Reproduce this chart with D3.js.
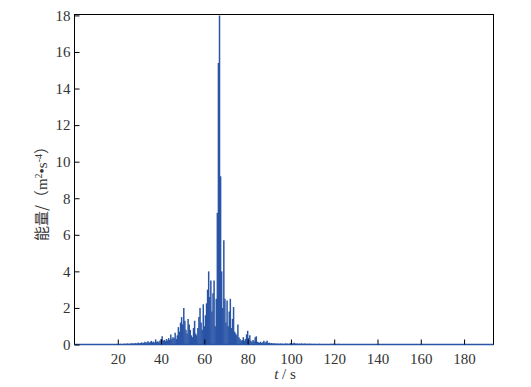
<!DOCTYPE html>
<html><head><meta charset="utf-8">
<script src="https://cdn.jsdelivr.net/npm/d3@7"></script>
<style>body{margin:0;background:#fff}</style>
</head><body>
<script>
// sampled energy series: first sample at t0 seconds, spacing dt seconds
const t0 = 20, dt = 0.5;
const energy = [
 0.02,0.03,0.02,0.04,0.03,0.02,0.05,0.03,0.04,0.06, // 20-24.5
 0.03,0.05,0.04,0.07,0.05,0.04,0.08,0.05,0.06,0.10, // 25-29.5
 0.06,0.08,0.12,0.07,0.10,0.15,0.09,0.12,0.18,0.10, // 30-34.5
 0.14,0.20,0.12,0.16,0.10,0.28,0.14,0.18,0.12,0.22, // 35-39.5
 0.30,0.45,0.20,0.25,0.18,0.30,0.22,0.35,0.25,0.55, // 40-44.5
 0.30,0.40,0.35,0.64,0.30,0.50,0.95,0.70,1.20,1.50, // 45-49.5
 1.10,2.00,1.30,0.80,0.60,1.40,1.10,0.80,0.50,0.40, // 50-54.5
 0.90,1.30,0.60,0.50,0.90,1.50,2.00,1.20,0.80,2.20, // 55-59.5
 1.00,1.60,2.25,3.00,4.00,2.60,3.50,1.80,2.80,3.50, // 60-64.5
 1.00,2.50,7.20,15.4,18.0,9.20,4.00,2.00,5.70,2.50, // 65-69.5
 1.20,2.40,1.00,1.80,2.50,0.90,1.40,2.05,0.70,0.60, // 70-74.5
 0.50,1.10,0.40,0.30,0.20,0.25,0.40,0.20,0.30,0.55, // 75-79.5
 0.75,0.35,0.50,0.20,0.15,0.25,0.18,0.40,0.45,0.15, // 80-84.5
 0.12,0.10,0.15,0.08,0.12,0.20,0.10,0.15,0.20,0.08, // 85-89.5
 0.10,0.06,0.08,0.05,0.07,0.05,0.06,0.04,0.05,0.03, // 90-94.5
 0.06,0.04,0.05,0.03,0.04,0.06,0.04,0.05,0.03,0.05, // 95-99.5
 0.08,0.04,0.06,0.10,0.05,0.04,0.06,0.03,0.05,0.04, // 100-104.5
 0.06,0.03,0.04,0.05,0.03,0.04,0.03,0.05,0.03,0.04, // 105-109.5
 0.03,0.02,0.04,0.02,0.03,0.02,0.04,0.02,0.03,0.02, // 110-114.5
 0.03,0.02,0.03,0.02,0.02,0.03,0.02,0.04,0.02,0.02, // 115-119.5
 0.05,0.02,0.03,0.02,0.04,0.02,0.02,0.03,0.02,0.02, // 120-124.5
 0.03,0.02,0.02,0.01,0.02,0.01,0.02,0.01,0.01,0.01  // 125-129.5
];
const xTicks = [20,40,60,80,100,120,140,160,180];
const yTicks = [0,2,4,6,8,10,12,14,16,18];
const xMax = 193.6, yMax = 18.05;

const W = 531, H = 387;
const L = 74.5, R = 493.5, T = 14.5, B = 344.5;
const blue = "#2a55a6";

const svg = d3.select("body").append("svg").attr("width", W).attr("height", H);
const x = d3.scaleLinear().domain([0, xMax]).range([L, R]);
const y = d3.scaleLinear().domain([0, yMax]).range([B, T]);

const data = energy.map((v, i) => ({t: t0 + i * dt, v}));

// series as dense stems
svg.append("g").selectAll("line").data(data).join("line")
  .attr("x1", d => x(d.t)).attr("x2", d => x(d.t))
  .attr("y1", y(0)).attr("y2", d => y(d.v))
  .attr("stroke", blue).attr("stroke-width", 1.5);

// frame
svg.append("rect").attr("x", L).attr("y", T).attr("width", R - L).attr("height", B - T)
  .attr("fill", "none").attr("stroke", "#000").attr("stroke-width", 1);

// baseline of the signal
svg.append("line").attr("x1", x(0)).attr("x2", x(xMax)).attr("y1", y(0)).attr("y2", y(0))
  .attr("stroke", blue).attr("stroke-width", 1.6);

// axes with inward ticks
const xAxis = d3.axisBottom(x).tickValues(xTicks).tickSizeInner(-5).tickSizeOuter(0).tickPadding(9);
const yAxis = d3.axisLeft(y).tickValues(yTicks).tickSizeInner(-5).tickSizeOuter(0).tickPadding(9);
const gx = svg.append("g").attr("transform", `translate(0,${B})`).call(xAxis);
const gy = svg.append("g").attr("transform", `translate(${L},0)`).call(yAxis);
[gx, gy].forEach(g => {
  g.select(".domain").remove();
  g.selectAll(".tick line").attr("stroke", "#000");
  g.selectAll("text").attr("fill", "#333")
    .style("font-family", "'Liberation Serif', serif").style("font-size", "15px");
});
gy.selectAll("text").attr("x", -4);
gx.selectAll("text").attr("dy", "0.71em");

// x label
const xl = svg.append("text").attr("x", 285).attr("y", 379).attr("text-anchor", "middle")
  .attr("fill", "#333").style("font-family", "'Liberation Serif', serif").style("font-size", "15px");
xl.append("tspan").style("font-style", "italic").text("t");
xl.append("tspan").text(" / s");

// y label
const yl = svg.append("text").attr("transform", "translate(47,190) rotate(-90)")
  .attr("text-anchor", "middle").attr("fill", "#333")
  .style("font-family", "'Liberation Serif', serif").style("font-size", "15px");
yl.append("tspan").style("font-family", "'Noto Sans CJK SC'").style("font-size", "15px").text("能量/");
yl.append("tspan").style("font-family", "'Noto Sans CJK SC'").style("font-size", "15px").text("（");
yl.append("tspan").text("m");
yl.append("tspan").attr("dy", -5).style("font-size", "10px").text("2");
yl.append("tspan").attr("dy", 5).text("•s");
yl.append("tspan").attr("dy", -5).style("font-size", "10px").text("-4");
yl.append("tspan").attr("dy", 5).style("font-family", "'Noto Sans CJK SC'").style("font-size", "15px").text("）");
</script>
</body></html>
